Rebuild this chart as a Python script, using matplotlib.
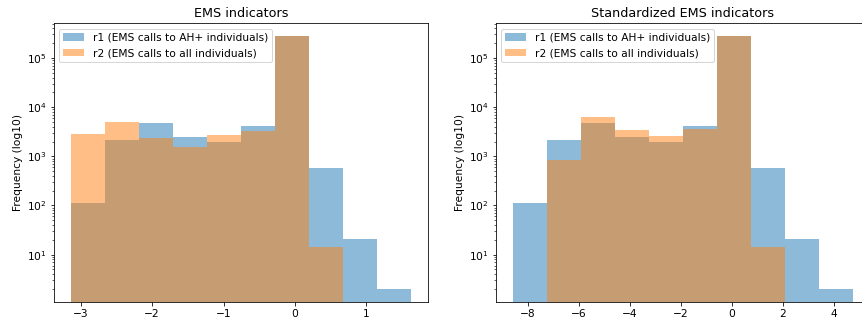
import numpy as np
import matplotlib
matplotlib.use("Agg")
import matplotlib.pyplot as plt

plt.rcParams["font.size"] = 10.6

# Bin edges (10 bins each)
edges_raw = np.linspace(-3.14, 1.63, 11)
edges_std = np.linspace(-8.59, 4.76, 11)

# Counts per bin
r1_raw = [113, 2160, 4790, 2490, 1970, 4160, 280000, 583, 21, 2]
r2_raw = [2860, 5010, 2410, 1560, 2730, 3300, 280000, 14, 0, 0]
r1_std = [113, 2160, 4790, 2490, 1970, 4160, 280000, 583, 21, 2]
r2_std = [0, 849, 6340, 3450, 2610, 3510, 280000, 14, 0, 0]

titles = ["EMS indicators", "Standardized EMS indicators"]
labels = ["r1 (EMS calls to AH+ individuals)", "r2 (EMS calls to all individuals)"]
ylabel = "Frequency (log10)"

fig = plt.figure(figsize=(862 / 72, 325 / 72), dpi=72)
ax1 = fig.add_axes([0.0623, 0.0717, 0.4346, 0.8566])
ax2 = fig.add_axes([0.5751, 0.0717, 0.4346, 0.8566])

for ax, edges, a, b, t in [(ax1, edges_raw, r1_raw, r2_raw, titles[0]),
                           (ax2, edges_std, r1_std, r2_std, titles[1])]:
    centers = (edges[:-1] + edges[1:]) / 2
    ax.hist(centers, bins=edges, weights=a, alpha=0.5, log=True, label=labels[0])
    ax.hist(centers, bins=edges, weights=b, alpha=0.5, log=True, label=labels[1])
    ax.set_title(t)
    ax.set_ylabel(ylabel)
    ax.legend(loc="upper left")

fig.savefig("out.png", dpi=72)
